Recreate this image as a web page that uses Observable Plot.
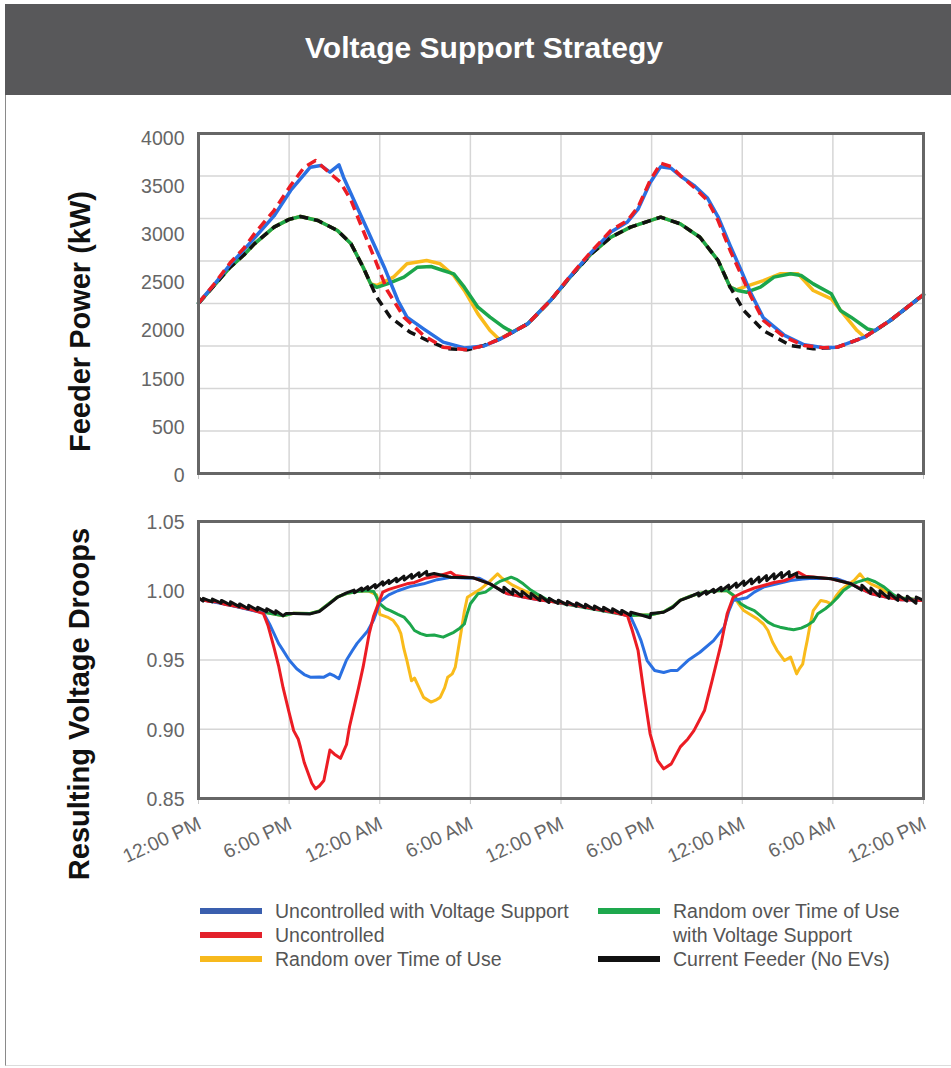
<!DOCTYPE html>
<html>
<head>
<meta charset="utf-8">
<script src="https://cdn.jsdelivr.net/npm/d3@7"></script>
<script src="https://cdn.jsdelivr.net/npm/@observablehq/plot@0.6"></script>
<style>
  html, body { margin: 0; padding: 0; background: #fff; overflow: hidden; }
  #page { position: relative; width: 951px; height: 1068px; font-family: "Liberation Sans", Arial, Helvetica, sans-serif; }
  #header { position: absolute; left: 5px; top: 4px; width: 946px; height: 91px; background: #58585a; }
  #title { position: absolute; left: 0; top: 31px; width: 968px; text-align: center; color: #fff; font-weight: bold; font-size: 30px; line-height: 34px; }
  #border { position: absolute; left: 5px; top: 95px; width: 946px; height: 971px; border-left: 1px solid #8a8a8a; border-bottom: 1px solid #dcdcdc; box-sizing: border-box; }
  #power, #volt { position: absolute; left: 0; }
  #power { top: 120px; }
  #volt { top: 505px; }
  .sw { position: absolute; width: 62px; height: 6px; }
  .lt { position: absolute; font-size: 19.5px; line-height: 22px; color: #555; white-space: nowrap; }
</style>
</head>
<body>
<div id="page">
  <div id="header"></div>
  <div id="title">Voltage Support Strategy</div>
  <div id="border"></div>
  <div id="power"></div>
  <div id="volt"></div>
  <div id="legend"></div>
</div>
<script>
// Time axis: hours from 12:00 PM on day one to 12:00 PM on day three
const xTickHours = [0, 6, 12, 18, 24, 30, 36, 42, 48];
const xTickLabels = ["12:00 PM", "6:00 PM", "12:00 AM", "6:00 AM", "12:00 PM", "6:00 PM", "12:00 AM", "6:00 AM", "12:00 PM"];

// Feeder power axis
const powerGrid = [0, 500, 1000, 1500, 2000, 2500, 3000, 3500, 4000];
const powerTickLabels = ["0", "500", "1500", "2000", "2500", "3000", "3500", "4000"];
const powerTitle = "Feeder Power (kW)";

// Voltage axis
const voltTicks = [0.85, 0.90, 0.95, 1.00, 1.05];
const voltGrid = [0.90, 0.95, 1.00];
const voltTitle = "Resulting Voltage Droops";

// Series
const seriesNames = [
  "Uncontrolled with Voltage Support",
  "Uncontrolled",
  "Random over Time of Use",
  "Random over Time of Use\nwith Voltage Support",
  "Current Feeder (No EVs)"
];
const lineColors = ["#2a70e2", "#ec1c24", "#f9bb1b", "#1ca64b", "#111111"];
const legendColors = ["#3a5fae", "#e3212b", "#f7b91d", "#1ea84d", "#111111"];

// Feeder power, kW  [hour, value]
const powerNoEV = [[0,2003],[1,2205],[2.1,2427],[3,2570],[3.7,2702],[5,2898],[6,2990],[6.75,3024],[7.9,2976],[9.2,2859],[10.1,2702],[10.9,2427],[11.4,2231],[11.8,2074],[12.7,1839],[14,1663],[15.4,1545],[16.5,1467],[17.8,1455],[18.9,1506],[20,1584],[21.8,1761],[23.3,2035],[24.6,2310],[26,2584],[27.3,2780],[28.6,2898],[30.6,3016],[31.9,2937],[33.2,2780],[34.4,2506],[35.2,2192],[36.1,1918],[37.4,1682],[39.2,1506],[40.7,1467],[42.3,1486],[44.1,1604],[45.8,1800],[48,2105]];
const powerUncontrolled = [[0,2003],[1,2220],[2.1,2480],[3,2650],[3.7,2820],[5,3094],[6.1,3388],[7,3604],[7.75,3682],[8.5,3565],[9.4,3427],[10.1,3212],[10.9,2859],[11.8,2467],[12.5,2153],[13.6,1839],[14.9,1624],[16.2,1486],[17.8,1455],[18.9,1506],[20,1584],[21.8,1761],[23.3,2035],[24.6,2320],[26,2610],[27.3,2859],[28.4,2976],[29.1,3133],[29.9,3447],[30.6,3650],[31.3,3610],[31.9,3506],[32.8,3368],[33.7,3212],[34.4,2976],[35.2,2624],[35.9,2349],[36.6,2074],[37.4,1800],[38.8,1604],[40.1,1506],[41.4,1478],[42.3,1486],[44.1,1604],[45.8,1800],[48,2105]];
const powerUncontrolledVS = [[0,2003],[1,2215],[2.1,2460],[3,2630],[3.7,2770],[5,3030],[6.1,3330],[7,3520],[7.4,3604],[8.1,3624],[8.7,3545],[9.3,3630],[9.6,3486],[10.3,3212],[11.2,2859],[12.3,2427],[13.2,2035],[13.8,1839],[14.9,1702],[16.2,1545],[17.6,1478],[18.9,1500],[20,1584],[21.8,1761],[23.3,2035],[24.6,2315],[26,2600],[27.3,2840],[28.4,2960],[29.1,3110],[29.9,3420],[30.6,3610],[31.3,3590],[31.9,3500],[32.8,3390],[33.7,3240],[34.4,3020],[35.2,2680],[35.9,2400],[36.6,2110],[37.4,1830],[38.8,1625],[40.1,1515],[41.4,1480],[42.3,1486],[44.1,1604],[45.8,1800],[48,2105]];
const powerRandomTOU = [[0,2003],[1,2205],[2.1,2427],[3,2570],[3.7,2702],[5,2898],[6,2990],[6.75,3024],[7.9,2976],[9.2,2859],[10.1,2702],[10.9,2427],[11.4,2231],[11.8,2212],[12.9,2310],[13.8,2467],[15.1,2506],[16,2467],[16.9,2329],[17.6,2153],[18.5,1878],[19.3,1682],[19.9,1580],[21.8,1761],[23.3,2035],[24.6,2310],[26,2584],[27.3,2780],[28.6,2898],[30.6,3016],[31.9,2937],[33.2,2780],[34.4,2506],[35.2,2192],[35.6,2160],[36.1,2192],[37.4,2270],[38.5,2349],[39.7,2349],[40.7,2153],[41.9,2055],[42.7,1878],[43.6,1682],[44.1,1604],[45.8,1800],[48,2105]];
const powerRandomTOUVS = [[0,2003],[1,2205],[2.1,2427],[3,2570],[3.7,2702],[5,2898],[6,2990],[6.75,3024],[7.9,2976],[9.2,2859],[10.1,2702],[10.9,2427],[11.4,2231],[11.8,2190],[12.5,2231],[13.6,2310],[14.5,2427],[15.4,2435],[16.2,2388],[16.9,2349],[17.6,2192],[18.5,1957],[19.3,1839],[20.2,1722],[20.8,1663],[21.8,1761],[23.3,2035],[24.6,2310],[26,2584],[27.3,2780],[28.6,2898],[30.6,3016],[31.9,2937],[33.2,2780],[34.4,2506],[35.2,2192],[35.7,2153],[36.3,2133],[37.2,2192],[38.1,2310],[39.2,2349],[39.9,2329],[40.7,2231],[41.9,2114],[42.5,1918],[43.2,1839],[44.3,1700],[44.8,1680],[45.8,1800],[48,2105]];

// Per-unit voltage  [hour, value]
const voltNoEV = [[0,0.995],[0.3,0.9925],[0.32,0.9945],[0.9,0.992],[0.92,0.994],[1.5,0.991],[1.52,0.993],[2.1,0.9898],[2.12,0.992],[2.7,0.9885],[2.72,0.9905],[3.3,0.987],[3.32,0.9895],[3.9,0.986],[3.92,0.988],[4.5,0.985],[4.52,0.987],[5.1,0.9835],[5.12,0.9855],[5.6,0.982],[5.8,0.9835],[6.3,0.9835],[7.4,0.9833],[8,0.985],[8.6,0.99],[9.2,0.9953],[9.8,0.9985],[10.3,1.0005],[10.32,0.9985],[10.8,1.002],[10.82,1.0],[11.2,1.003],[11.22,1.0008],[11.7,1.0045],[11.72,1.002],[12.2,1.0065],[12.22,1.004],[12.6,1.0075],[12.62,1.0052],[13.1,1.009],[13.12,1.0065],[13.6,1.0105],[13.62,1.0078],[14.1,1.0118],[14.12,1.009],[14.6,1.013],[14.62,1.0102],[15.1,1.014],[15.12,1.0112],[15.6,1.0125],[16.7,1.0098],[17.5,1.0096],[18.2,1.0093],[19.3,1.005],[20.2,0.999],[20.22,1.0025],[20.8,0.9975],[20.82,1.001],[21.4,0.996],[21.42,0.9995],[22,0.9945],[22.02,0.998],[22.6,0.993],[22.62,0.9965],[23.2,0.9915],[23.22,0.9945],[23.8,0.9908],[23.82,0.9932],[24.4,0.9898],[24.42,0.9922],[25,0.9888],[25.02,0.9912],[25.6,0.9878],[25.62,0.9902],[26.2,0.9865],[26.22,0.989],[26.8,0.9855],[26.82,0.988],[27.4,0.9845],[27.42,0.987],[28,0.9833],[28.02,0.9858],[28.6,0.9822],[28.62,0.9845],[29.3,0.9825],[29.9,0.9805],[29.95,0.9835],[30.8,0.9845],[31.4,0.988],[31.9,0.993],[32.6,0.996],[33.1,0.9985],[33.12,0.9962],[33.6,0.9998],[33.62,0.9975],[34.1,1.001],[34.12,0.9988],[34.6,1.0025],[34.62,1.0],[35.1,1.004],[35.12,1.0012],[35.6,1.0055],[35.62,1.0025],[36.1,1.007],[36.12,1.0038],[36.6,1.0085],[36.62,1.005],[37.1,1.0098],[37.12,1.0062],[37.6,1.011],[37.62,1.0072],[38.1,1.0122],[38.12,1.0085],[38.6,1.0132],[38.62,1.0095],[39.1,1.0138],[39.12,1.0102],[39.6,1.0128],[39.62,1.0098],[40.7,1.0098],[41.9,1.0086],[43.2,1.005],[43.9,1.0005],[43.92,1.004],[44.5,0.998],[44.52,1.002],[45.1,0.996],[45.12,1.0],[45.7,0.9945],[45.72,0.9985],[46.3,0.993],[46.32,0.997],[46.9,0.9925],[46.92,0.996],[47.5,0.991],[47.52,0.9955],[48,0.993]];
const voltUncontrolled = [[0,0.994],[0.6,0.9925],[1.2,0.992],[1.8,0.99],[2.4,0.989],[3,0.9875],[3.6,0.986],[4.3,0.9835],[4.6,0.975],[5,0.959],[5.3,0.946],[5.6,0.93],[6,0.912],[6.3,0.899],[6.6,0.893],[6.75,0.887],[7,0.876],[7.2,0.87],[7.5,0.861],[7.75,0.857],[8,0.859],[8.3,0.863],[8.5,0.874],[8.7,0.885],[9,0.882],[9.4,0.879],[9.8,0.889],[10,0.902],[10.3,0.916],[10.6,0.93],[10.9,0.945],[11.3,0.969],[11.6,0.982],[11.9,0.9906],[12.2,0.999],[12.6,1.001],[13.2,1.003],[13.8,1.005],[14.3,1.006],[15,1.009],[16,1.011],[16.7,1.0134],[17,1.011],[18.2,1.0093],[19.3,1.005],[20.4,0.998],[21.5,0.9955],[22.5,0.9935],[23.5,0.992],[24.5,0.9905],[25.5,0.9885],[26.5,0.9865],[27.5,0.9845],[28.4,0.982],[28.7,0.972],[29.1,0.957],[29.5,0.9256],[29.9,0.8967],[30.4,0.8774],[30.8,0.8714],[31.3,0.875],[31.9,0.8873],[32.4,0.893],[32.8,0.899],[33.5,0.9135],[34,0.935],[34.6,0.9617],[35,0.9834],[35.4,0.9953],[36.1,0.999],[36.8,1.002],[37.4,1.0038],[38.1,1.006],[38.8,1.0074],[39.4,1.01],[39.7,1.0134],[40.2,1.0105],[41,1.0095],[41.9,1.0086],[43.2,1.005],[44.5,0.998],[45.5,0.9955],[46.5,0.9935],[48,0.993]];
const voltUncontrolledVS = [[0,0.9938],[1.2,0.9915],[2.4,0.9888],[3.6,0.9858],[4.3,0.984],[4.7,0.976],[5,0.969],[5.3,0.962],[5.6,0.957],[6,0.95],[6.5,0.9437],[7,0.9395],[7.4,0.9376],[8,0.9378],[8.3,0.9376],[8.7,0.94],[9,0.9385],[9.3,0.9365],[9.5,0.942],[9.8,0.95],[10.2,0.957],[10.5,0.962],[11.2,0.971],[11.6,0.979],[11.8,0.985],[12,0.992],[12.6,0.997],[13.2,1.0],[14,1.003],[14.9,1.005],[15.8,1.008],[16.7,1.0098],[17.6,1.0092],[18.6,1.009],[19.3,1.005],[20.4,0.998],[21.5,0.9955],[22.5,0.9935],[23.5,0.992],[24.5,0.9905],[25.5,0.9885],[26.5,0.9865],[27.5,0.9845],[28.6,0.9815],[29,0.972],[29.3,0.964],[29.7,0.9496],[30.2,0.9424],[30.8,0.941],[31.3,0.9425],[31.7,0.9424],[32.4,0.9496],[33.2,0.9556],[34.1,0.964],[34.8,0.9737],[35.1,0.985],[35.4,0.993],[36.3,0.995],[36.8,0.999],[37.4,1.0026],[38.3,1.005],[39.2,1.0074],[40,1.0085],[40.7,1.009],[41.5,1.0088],[42.3,1.0086],[43.2,1.005],[44.5,0.998],[45.5,0.9955],[46.5,0.9935],[48,0.993]];
const voltRandomTOU = [[0,0.994],[1.2,0.9918],[2.4,0.989],[3.6,0.986],[4.8,0.9835],[5.6,0.982],[6.3,0.9838],[7.4,0.9836],[8,0.9855],[8.6,0.9905],[9.2,0.9955],[9.8,0.998],[10.5,0.9995],[11.2,1.0],[11.8,0.997],[12,0.983],[12.5,0.981],[12.9,0.9785],[13.2,0.974],[13.4,0.969],[13.6,0.958],[13.8,0.9496],[14.1,0.935],[14.3,0.937],[14.6,0.93],[14.9,0.923],[15.4,0.9196],[15.7,0.921],[16,0.923],[16.3,0.93],[16.5,0.9376],[16.8,0.94],[17,0.9448],[17.2,0.958],[17.4,0.9713],[17.6,0.985],[17.8,0.9953],[18.2,0.998],[18.7,1.0014],[19.3,1.007],[19.8,1.0122],[20.1,1.009],[20.4,1.007],[20.8,1.004],[21.3,1.0014],[22,0.998],[22.6,0.995],[23.5,0.992],[24.5,0.9905],[25.5,0.9885],[26.5,0.9865],[27.5,0.9845],[28.6,0.9822],[29.3,0.9825],[29.9,0.9825],[30.8,0.9848],[31.4,0.9885],[31.9,0.9932],[32.6,0.9962],[33.5,0.999],[34.3,1.0],[35,1.0],[35.4,0.9966],[35.8,0.99],[36.1,0.9857],[36.5,0.983],[37,0.9797],[37.4,0.976],[37.7,0.9713],[38,0.963],[38.3,0.957],[38.8,0.9496],[39.2,0.9521],[39.4,0.946],[39.6,0.94],[39.8,0.944],[40,0.947],[40.15,0.956],[40.3,0.964],[40.5,0.976],[40.7,0.9857],[41.2,0.993],[41.6,0.992],[41.9,0.9906],[42.2,0.996],[42.5,1.0002],[43,1.0045],[43.4,1.0074],[43.8,1.0122],[44.1,1.008],[44.5,1.005],[45,1.0026],[45.6,0.999],[46.3,0.995],[47.2,0.994],[48,0.993]];
const voltRandomTOUVS = [[0,0.994],[1.2,0.9918],[2.4,0.989],[3.6,0.986],[4.8,0.9835],[5.6,0.982],[6.3,0.9838],[7.4,0.9836],[8,0.9855],[8.6,0.9905],[9.2,0.9955],[9.8,0.998],[10.5,0.9995],[11.2,1.0],[11.6,0.9995],[12,0.9906],[12.4,0.987],[12.7,0.9857],[13.2,0.983],[13.6,0.981],[14,0.976],[14.3,0.9713],[14.7,0.969],[15.1,0.9677],[15.6,0.968],[16.2,0.9665],[16.6,0.9685],[16.9,0.97],[17.3,0.973],[17.6,0.976],[17.8,0.984],[18,0.9906],[18.5,0.9978],[19,0.999],[19.3,1.0014],[19.7,1.005],[20,1.007],[20.7,1.0098],[21.1,1.008],[21.5,1.005],[22,1.0005],[22.4,0.9978],[23.1,0.9935],[24,0.991],[25,0.989],[26,0.987],[27,0.985],[28,0.983],[28.6,0.9822],[29.3,0.9825],[29.9,0.9825],[30.8,0.9848],[31.4,0.9885],[31.9,0.9932],[32.6,0.9962],[33.5,0.999],[34.3,1.0],[35,1.0],[35.4,0.997],[35.9,0.9906],[36.3,0.988],[36.8,0.9857],[37.2,0.982],[37.7,0.9773],[38.1,0.975],[38.5,0.9737],[39,0.9725],[39.4,0.9718],[39.9,0.973],[40.3,0.975],[40.7,0.978],[41,0.9834],[41.5,0.987],[41.9,0.9906],[42.3,0.995],[42.7,1.0002],[43.2,1.004],[43.6,1.0062],[44.3,1.0086],[44.8,1.0065],[45.4,1.0026],[45.9,0.998],[46.3,0.995],[47.2,0.994],[48,0.993]];

const FONT = "'Liberation Sans', Arial, Helvetica, sans-serif";
const xLabelOf = new Map(xTickHours.map((h, i) => [h, xTickLabels[i]]));

// Power tick labels are spread evenly up the axis
const powerTickPos = powerTickLabels.map((_, i) => i * 3960 / (powerTickLabels.length - 1));
const powerLabelOf = new Map(powerTickPos.map((p, i) => [p, powerTickLabels[i]]));

function series(data, color, width, dash) {
  return Plot.line(data, {
    x: d => d[0], y: d => d[1],
    stroke: color, strokeWidth: width,
    strokeDasharray: dash, strokeLinejoin: "round", strokeLinecap: dash ? "butt" : "round"
  });
}

const gridStyle = {stroke: "#d6d6d6", strokeOpacity: 1, strokeWidth: 1.5};

const powerPlot = Plot.plot({
  width: 951, height: 380,
  marginLeft: 198, marginRight: 28, marginTop: 13, marginBottom: 27,
  style: {fontFamily: FONT, background: "transparent", overflow: "visible"},
  x: {domain: [0, 48]},
  y: {domain: [0, 4000]},
  marks: [
    Plot.gridX(xTickHours, gridStyle),
    Plot.gridY(powerGrid, gridStyle),
    Plot.axisX(xTickHours, {tickSize: 6, tickFormat: () => "", stroke: "#c8c8c8", label: null}),
    Plot.axisY(powerTickPos, {tickSize: 0, tickPadding: 14, tickFormat: d => powerLabelOf.get(d), fontSize: 19.5, fill: "#666", dy: 2, label: null}),
    series(powerRandomTOU, lineColors[2], 3.5),
    series(powerRandomTOUVS, lineColors[3], 3.5),
    series(powerNoEV, lineColors[4], 3.5, "9,6"),
    series(powerUncontrolledVS, lineColors[0], 3.5),
    series(powerUncontrolled, lineColors[1], 3.5, "10,6"),
    Plot.frame({stroke: "#666", strokeWidth: 3}),
    Plot.text([powerTitle], {frameAnchor: "left", textAnchor: "middle", rotate: -90, dx: -118, dy: 18, fontSize: 29, fontWeight: "bold", fill: "#111"})
  ]
});
document.getElementById("power").append(powerPlot);

const voltPlot = Plot.plot({
  width: 951, height: 395,
  marginLeft: 198, marginRight: 28, marginTop: 16, marginBottom: 102,
  style: {fontFamily: FONT, background: "transparent", overflow: "visible"},
  x: {domain: [0, 48]},
  y: {domain: [0.85, 1.05]},
  marks: [
    Plot.gridX(xTickHours, gridStyle),
    Plot.gridY(voltGrid, gridStyle),
    Plot.axisX(xTickHours, {tickSize: 6, tickFormat: () => "", stroke: "#c8c8c8", label: null}),
    Plot.axisX(xTickHours, {tickSize: 0, tickPadding: 17, tickRotate: -25, textAnchor: "end", lineAnchor: "top", dx: -2,
      tickFormat: d => xLabelOf.get(d), fontSize: 19.5, fill: "#666", label: null}),
    Plot.axisY(voltTicks, {tickSize: 0, tickPadding: 14, tickFormat: d3.format(".2f"), fontSize: 19.5, fill: "#666", dy: 1, label: null}),
    series(voltRandomTOU, lineColors[2], 3),
    series(voltRandomTOUVS, lineColors[3], 3),
    series(voltUncontrolledVS, lineColors[0], 3),
    series(voltUncontrolled, lineColors[1], 3),
    series(voltNoEV, lineColors[4], 3),
    Plot.frame({stroke: "#666", strokeWidth: 3}),
    Plot.text([voltTitle], {frameAnchor: "left", textAnchor: "middle", rotate: -90, dx: -119, dy: 44, fontSize: 29, fontWeight: "bold", fill: "#111"})
  ]
});
document.getElementById("volt").append(voltPlot);

// Legend: two columns below the charts
const legendSlots = [
  {x: 200, y: 911}, {x: 200, y: 935}, {x: 200, y: 959},
  {x: 598, y: 911}, {x: 598, y: 959}
];
const legend = document.getElementById("legend");
seriesNames.forEach((name, i) => {
  const slot = legendSlots[i];
  const sw = document.createElement("div");
  sw.className = "sw";
  sw.style.left = slot.x + "px";
  sw.style.top = (slot.y - 3) + "px";
  sw.style.background = legendColors[i];
  legend.append(sw);
  name.split("\n").forEach((line, j) => {
    const t = document.createElement("div");
    t.className = "lt";
    t.style.left = (slot.x + 75) + "px";
    t.style.top = (slot.y - 11 + j * 24) + "px";
    t.textContent = line;
    legend.append(t);
  });
});
</script>
</body>
</html>
